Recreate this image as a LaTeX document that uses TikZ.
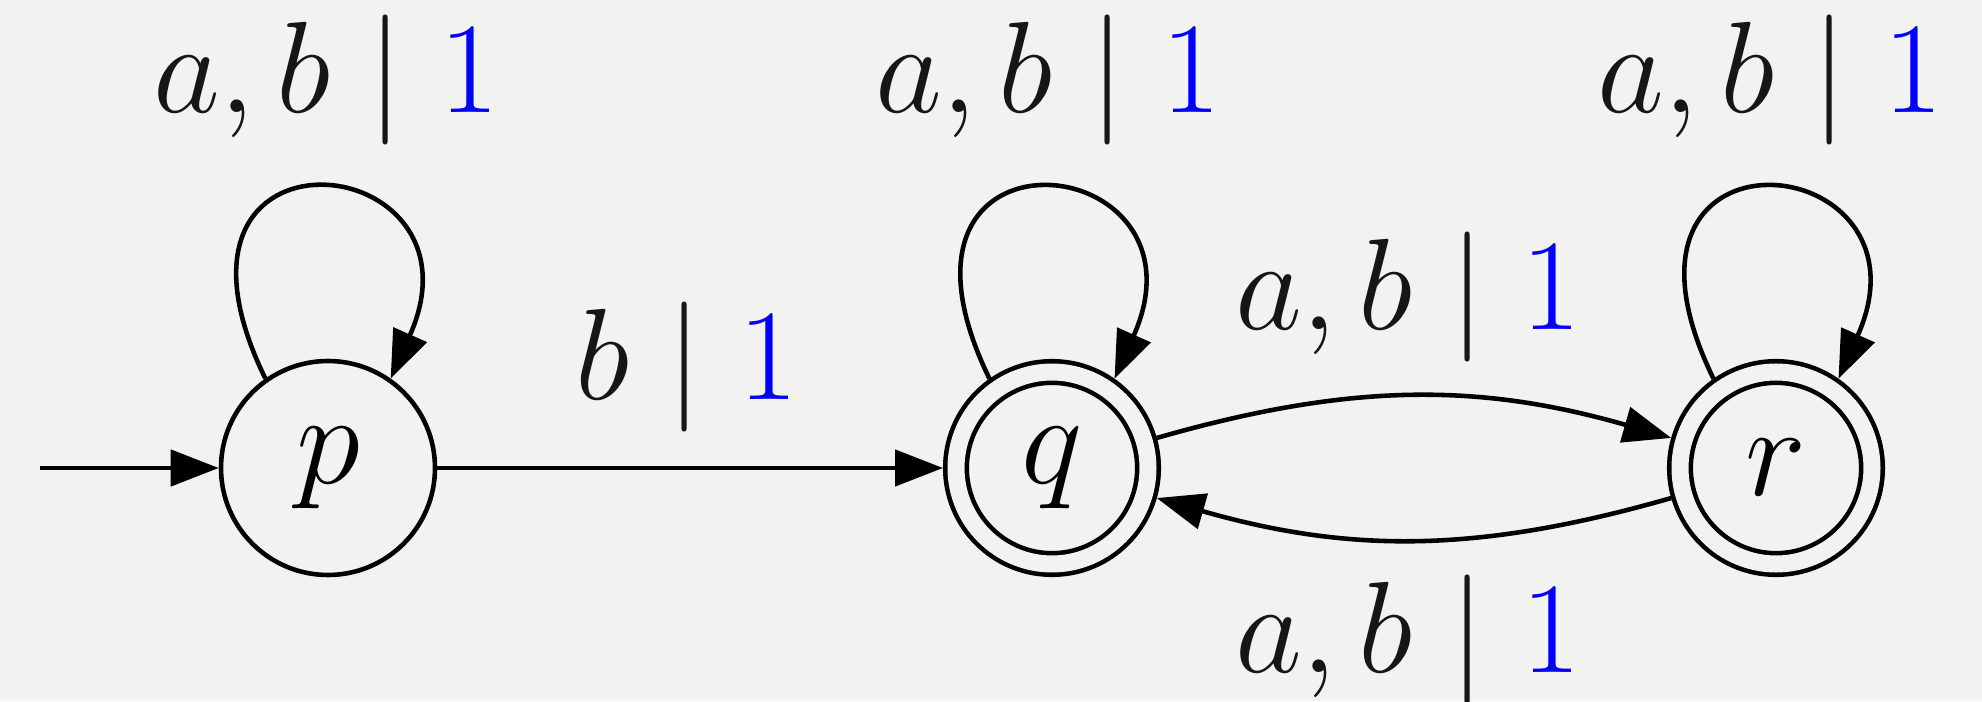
\documentclass[tikz,border=0pt]{standalone}
\usetikzlibrary{arrows.meta}
\definecolor{paper}{RGB}{242,242,240}
\definecolor{ink}{RGB}{22,22,22}
\newcommand{\bigtxt}[1]{\scalebox{1.487}{\Huge #1}}

\begin{document}
\begin{tikzpicture}[>={Triangle[length=4.8mm,width=3.6mm]}, line width=1.3pt,
  st/.style={circle, draw, minimum size=2.14cm, inner sep=0pt},
  acc/.style={st, minimum size=1.92cm, double=paper, double distance=1.7mm,
    outer sep=1.3mm},
  lbl/.style={anchor=base, text=ink},
  selfloop/.style={out=116, in=66, out distance=3.0cm, in distance=2.55cm}]

  % Paper
  \fill[paper] (0,0) rectangle (19.82,7.01);
  \useasboundingbox (0,0) rectangle (19.82,7.01);

  % States
  \node[st]  (p) at (3.28, 2.33) {\bigtxt{$p$}};
  \node[acc] (q) at (10.52, 2.33) {\bigtxt{$q$}};
  \node[acc] (r) at (17.76, 2.33) {\bigtxt{$r$}};
  \coordinate (init) at (0.40, 2.33);

  % Initial arrow and p -> q
  \draw[->] (init) -- (p);
  \draw[->] (p) -- (q);

  % q <-> r
  \draw[->] (q) to[bend left=16] (r);
  \draw[->] (r) to[bend left=16] (q);

  % Self loops
  \draw[->] (p.125) to[selfloop] (p.55);
  \draw[->] (q.125) to[selfloop] (q.55);
  \draw[->] (r.125) to[selfloop] (r.55);

  % Labels
  \node[lbl] (lp)  at (3.26, 5.88)  {\bigtxt{$a, b \mid \textcolor{blue}{1}$}};
  \node[lbl] (lq)  at (10.48, 5.88) {\bigtxt{$a, b \mid \textcolor{blue}{1}$}};
  \node[lbl] (lr)  at (17.70, 5.88) {\bigtxt{$a, b \mid \textcolor{blue}{1}$}};
  \node[lbl] (lpq) at (6.87, 3.01)  {\bigtxt{$b \mid \textcolor{blue}{1}$}};
  \node[lbl] (lqr) at (14.08, 3.71) {\bigtxt{$a, b \mid \textcolor{blue}{1}$}};
  \node[lbl] (lrq) at (14.08, 0.29) {\bigtxt{$a, b \mid \textcolor{blue}{1}$}};

\end{tikzpicture}
\end{document}
